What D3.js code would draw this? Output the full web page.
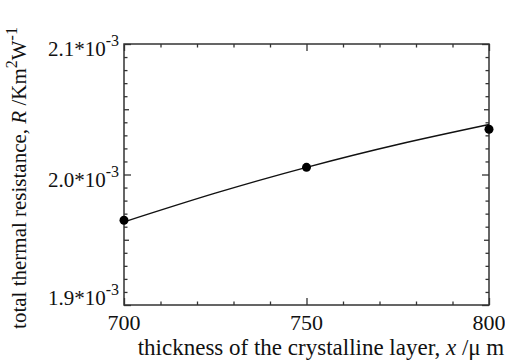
<!DOCTYPE html>
<html><head><meta charset="utf-8">
<script src="https://cdn.jsdelivr.net/npm/d3@7"></script>
<style>html,body{margin:0;padding:0;background:#fff;}svg{display:block;font-family:"Liberation Serif","Times New Roman",serif;}</style>
</head><body>
<svg id="c" width="505" height="360"></svg>
<script>
// data
const thickness = [700, 750, 800];
const resistance = [1.9649e-3, 2.0055e-3, 2.0347e-3];
const fitX = [700, 725, 750, 775, 800];
const fitY = [1.9637e-3, 1.9857e-3, 2.0055e-3, 2.0230e-3, 2.0383e-3];
const xTicks = [700, 750, 800];
const yTicks = [1.9e-3, 2.0e-3, 2.1e-3];
const yTickLabels = ["1.9*10", "2.0*10", "2.1*10"];
const xTitle = "thickness of the crystalline layer, ";
const yTitle = "total thermal resistance, ";

const svg = d3.select("#c");
const L = 124, R = 489, T = 44, B = 305;
const x = d3.scaleLinear().domain([700, 800]).range([L, R]);
const y = d3.scaleLinear().domain([1.9e-3, 2.1e-3]).range([B, T]);
const axisCol = "#333";

// minor/major ticks
const xMinor = d3.range(700, 801, 10).filter(v => v % 50 !== 0);
const yMinor = d3.range(0, 21).map(i => 1.9e-3 + i * 1e-5).filter((v, i) => i % 10 !== 0);
function drawAxis(gen, tr, vals, size) {
  const g = svg.append("g").attr("transform", tr)
    .call(gen.tickValues(vals).tickSizeInner(size).tickSizeOuter(0).tickFormat(""));
  g.select(".domain").remove();
  g.selectAll(".tick line").attr("stroke", axisCol).attr("stroke-width", 1.3);
}
drawAxis(d3.axisBottom(x), `translate(0,${B})`, xMinor, -3.5);
drawAxis(d3.axisBottom(x), `translate(0,${B})`, xTicks, -7);
drawAxis(d3.axisTop(x), `translate(0,${T})`, xMinor, -3.5);
drawAxis(d3.axisTop(x), `translate(0,${T})`, xTicks, -7);
const yMid = yMinor.filter(v => Math.round((v - 1.9e-3) / 1e-5) % 5 === 0);
const yMin2 = yMinor.filter(v => !yMid.includes(v));
drawAxis(d3.axisLeft(y), `translate(${L},0)`, yMin2, -3.5);
drawAxis(d3.axisLeft(y), `translate(${L},0)`, yMid, -5);
drawAxis(d3.axisLeft(y), `translate(${L},0)`, yTicks, -7);
drawAxis(d3.axisRight(y), `translate(${R},0)`, yMin2, -3.5);
drawAxis(d3.axisRight(y), `translate(${R},0)`, yMid, -5);
drawAxis(d3.axisRight(y), `translate(${R},0)`, yTicks, -7);

// frame
svg.append("rect").attr("x", L).attr("y", T).attr("width", R - L).attr("height", B - T)
  .attr("fill", "none").attr("stroke", axisCol).attr("stroke-width", 1.5);

// fitted curve
const line = d3.line().x((d, i) => x(fitX[i])).y(d => y(d)).curve(d3.curveNatural);
svg.append("path").datum(fitY).attr("d", line)
  .attr("fill", "none").attr("stroke", "#111").attr("stroke-width", 1.4);

// points
svg.selectAll("circle.pt").data(resistance).join("circle")
  .attr("cx", (d, i) => x(thickness[i])).attr("cy", d => y(d)).attr("r", 4.5).attr("fill", "#000");

// x tick labels
svg.selectAll("text.xt").data(xTicks).join("text")
  .attr("x", d => x(d)).attr("y", B + 25).attr("text-anchor", "middle")
  .attr("font-size", 22).attr("fill", "#111").text(d => d);

// y tick labels
yTicks.forEach((v, i) => {
  const by = i === 0 ? y(v) : y(v) + 12;
  const t = svg.append("text").attr("x", 119).attr("y", by).attr("text-anchor", "end")
    .attr("font-size", 21).attr("fill", "#111");
  t.append("tspan").text(yTickLabels[i]);
  t.append("tspan").attr("dy", -10).attr("font-size", 16).text("-3");
});

// x title
const xt = svg.append("text").attr("x", 321).attr("y", 355).attr("text-anchor", "middle")
  .attr("font-size", 23).attr("fill", "#111");
xt.append("tspan").text(xTitle);
xt.append("tspan").attr("font-style", "italic").text("x");
xt.append("tspan").text(" /μ m");

// y title
const yt = svg.append("text").attr("transform", "translate(26,178) rotate(-90)")
  .attr("text-anchor", "middle").attr("font-size", 21).attr("fill", "#111");
yt.append("tspan").text(yTitle);
yt.append("tspan").attr("font-style", "italic").text("R");
yt.append("tspan").text(" /Km");
yt.append("tspan").attr("dy", -9).attr("font-size", 16).text("2");
yt.append("tspan").attr("dy", 9).text("W");
yt.append("tspan").attr("dy", -9).attr("font-size", 16).text("-1");
</script>
</body></html>
